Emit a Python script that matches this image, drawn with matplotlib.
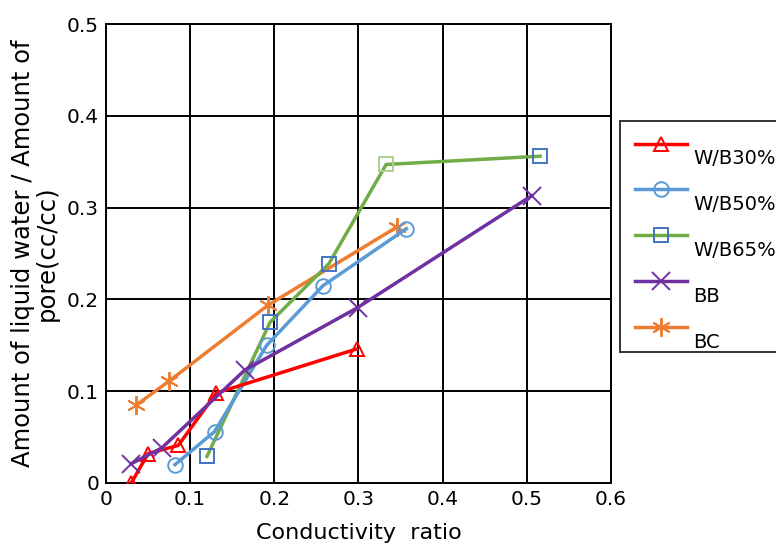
import matplotlib
matplotlib.use("Agg")
import matplotlib.pyplot as plt
from matplotlib.transforms import ScaledTranslation

plt.rcParams['font.family'] = ['DejaVu Sans', 'Noto Sans CJK JP']

# Data
wb30_x = [0.030, 0.050, 0.086, 0.131, 0.298]
wb30_y = [0.000, 0.032, 0.041, 0.098, 0.146]
wb50_x = [0.082, 0.129, 0.191, 0.258, 0.357]
wb50_y = [0.020, 0.056, 0.150, 0.215, 0.277]
wb65_x = [0.120, 0.195, 0.265, 0.333, 0.516]
wb65_y = [0.029, 0.175, 0.239, 0.347, 0.356]
bb_x = [0.030, 0.066, 0.165, 0.299, 0.506]
bb_y = [0.021, 0.038, 0.123, 0.191, 0.313]
bc_x = [0.036, 0.075, 0.193, 0.346]
bc_y = [0.085, 0.111, 0.194, 0.279]
labels = ["W/B30%", "W/B50%", "W/B65%", "BB", "BC"]
xticks = [0, 0.1, 0.2, 0.3, 0.4, 0.5, 0.6]
yticks = [0, 0.1, 0.2, 0.3, 0.4, 0.5]
xtick_labels = ["0", "0.1", "0.2", "0.3", "0.4", "0.5", "0.6"]
ytick_labels = ["0", "0.1", "0.2", "0.3", "0.4", "0.5"]

fig = plt.figure(figsize=(7.76, 5.52), dpi=100)
ax = fig.add_axes([0.1366, 0.125, 0.6505, 0.8315])

lw = 2.5
ms = 10.5
mew = 1.4
h1, = ax.plot(wb30_x, wb30_y, color="#FF0000", lw=lw, marker="^", ms=ms,
              mfc="none", mec="#FF0000", mew=mew, label=labels[0], zorder=5)
h2, = ax.plot(wb50_x, wb50_y, color="#5B9BD5", lw=lw, marker="o", ms=ms,
              mfc="none", mec="#5B9BD5", mew=mew, label=labels[1], zorder=4)
h3, = ax.plot(wb65_x, wb65_y, color="#70AD47", lw=lw, marker="s", ms=ms,
              mfc="none", mec="#4472C4", mew=mew, label=labels[2], zorder=3,
              markevery=[0, 1, 2, 4])
ax.plot(wb65_x[3:4], wb65_y[3:4], ls="none", marker="s", ms=ms, mfc="none",
        mec="#A9D18E", mew=mew, zorder=3)
h4, = ax.plot(bb_x, bb_y, color="#7030A0", lw=lw, marker="x", ms=ms + 3,
              mec="#7030A0", mew=mew, label=labels[3], zorder=6)
h5, = ax.plot(bc_x, bc_y, color="#ED7D31", lw=lw, marker=(6, 2, 0), ms=ms + 3,
              mec="#ED7D31", mew=mew, label=labels[4], zorder=2)

ax.set_xlim(0, 0.6)
ax.set_ylim(0, 0.5)
ax.set_xticks(xticks)
ax.set_xticklabels(xtick_labels)
ax.set_yticks(yticks)
ax.set_yticklabels(ytick_labels)
ax.tick_params(length=0, labelsize=14.5, pad=5)
ax.grid(True, color="black", lw=1.4)
for s in ax.spines.values():
    s.set_color("black")
    s.set_linewidth(1.4)

ax.set_xlabel("Conductivity  ratio", fontsize=16, labelpad=10)
ax.set_ylabel("Amount of liquid water / Amount of\npore(cc/cc)", fontsize=17.5,
              labelpad=6, linespacing=1.0)

proxy3 = plt.Line2D([], [], color="#70AD47", lw=lw, marker="s", ms=ms - 1,
                    mfc="none", mec="#4472C4", mew=mew)
leg = fig.legend([h1, h2, proxy3, h4, h5], labels,
                 loc="upper left", bbox_to_anchor=(0.799, 0.781),
                 fontsize=14, frameon=True, fancybox=False, handlelength=2.7,
                 handletextpad=0.3, labelspacing=1.38, borderpad=0.75,
                 borderaxespad=0)
leg.get_frame().set_edgecolor("black")
leg.get_frame().set_linewidth(1.4)
for t in leg.get_texts():
    t.set_transform(t.get_transform() + ScaledTranslation(0, -10 / 72, fig.dpi_scale_trans))

fig.savefig("out.png", dpi=100)
